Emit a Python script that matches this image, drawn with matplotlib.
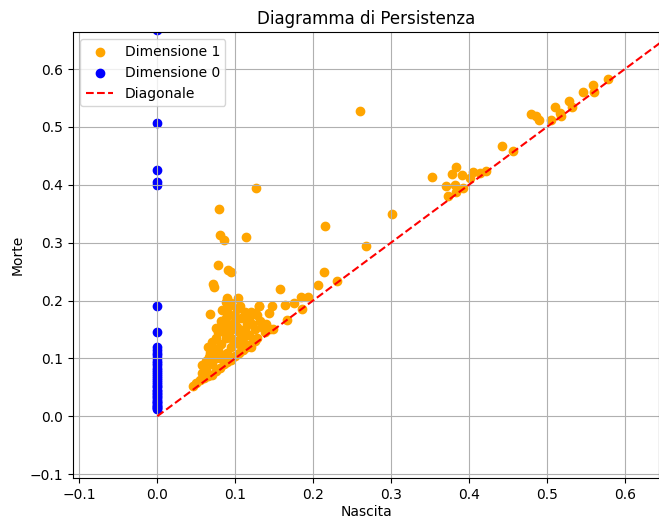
import numpy as np
import matplotlib
matplotlib.use('Agg')
import matplotlib.pyplot as plt

# Dimension 0 pairs: birth is always 0
dim0_death = [
    0.012, 0.014, 0.016, 0.018, 0.020, 0.022, 0.025, 0.027, 0.030, 0.033,
    0.035, 0.038, 0.040, 0.043, 0.046, 0.050, 0.053, 0.056, 0.060, 0.063,
    0.066, 0.070, 0.073, 0.077, 0.080, 0.084, 0.088, 0.092, 0.096, 0.100,
    0.105, 0.110, 0.115, 0.120, 0.145, 0.190, 0.399, 0.405, 0.425, 0.507,
    0.668,
]
dim0_birth = [0.0] * len(dim0_death)

# Dimension 1 pairs (birth, death)
dim1_birth = [
    # dense cluster near the origin
    0.046, 0.050, 0.055, 0.060, 0.065, 0.070, 0.075, 0.080, 0.085, 0.090,
    0.095, 0.100, 0.105, 0.110, 0.115, 0.120, 0.125, 0.058, 0.062, 0.066,
    0.068, 0.072, 0.065, 0.070, 0.075, 0.078, 0.080, 0.076, 0.082, 0.085,
    0.088, 0.090, 0.092, 0.088, 0.095, 0.098, 0.100, 0.102, 0.105, 0.108,
    0.110, 0.112, 0.115, 0.118, 0.120, 0.122, 0.125, 0.128, 0.130, 0.132,
    0.135, 0.138, 0.140, 0.118, 0.095, 0.090, 0.085, 0.080, 0.078, 0.082,
    0.088, 0.092, 0.096, 0.100, 0.105, 0.095, 0.085, 0.090, 0.075, 0.070,
    0.108, 0.112, 0.102, 0.115, 0.120, 0.128, 0.070, 0.063, 0.058, 0.068,
    0.083, 0.089, 0.104, 0.106,
    # scattered above the cluster
    0.072, 0.073, 0.078, 0.091, 0.095, 0.079, 0.081, 0.085, 0.114, 0.127,
    # band along the diagonal
    0.130, 0.126, 0.143, 0.147, 0.145, 0.148, 0.157, 0.164, 0.175, 0.184,
    0.194, 0.186, 0.166, 0.206, 0.214, 0.215, 0.231, 0.268, 0.260, 0.301,
    # upper right group
    0.352, 0.383, 0.378, 0.391, 0.371, 0.382, 0.393, 0.373, 0.384, 0.405,
    0.414, 0.422, 0.401, 0.443, 0.456, 0.480, 0.486, 0.490, 0.506, 0.510,
    0.518, 0.517, 0.528, 0.532, 0.547, 0.559, 0.561, 0.578,
]
dim1_death = [
    0.052, 0.058, 0.062, 0.066, 0.070, 0.072, 0.078, 0.083, 0.090, 0.094,
    0.098, 0.104, 0.110, 0.114, 0.120, 0.125, 0.130, 0.088, 0.095, 0.102,
    0.110, 0.118, 0.120, 0.128, 0.135, 0.145, 0.155, 0.152, 0.165, 0.160,
    0.170, 0.180, 0.190, 0.198, 0.195, 0.175, 0.165, 0.155, 0.145, 0.135,
    0.128, 0.150, 0.160, 0.170, 0.180, 0.160, 0.150, 0.175, 0.190, 0.165,
    0.155, 0.145, 0.160, 0.140, 0.120, 0.110, 0.105, 0.100, 0.115, 0.125,
    0.135, 0.145, 0.150, 0.130, 0.125, 0.135, 0.145, 0.160, 0.100, 0.090,
    0.170, 0.180, 0.185, 0.140, 0.120, 0.135, 0.105, 0.080, 0.075, 0.176,
    0.184, 0.205, 0.205, 0.190,
    0.228, 0.224, 0.262, 0.252, 0.250, 0.359, 0.314, 0.305, 0.310, 0.395,
    0.190, 0.179, 0.179, 0.190, 0.150, 0.151, 0.220, 0.193, 0.196, 0.206,
    0.206, 0.186, 0.166, 0.226, 0.250, 0.328, 0.234, 0.295, 0.527, 0.350,
    0.413, 0.430, 0.419, 0.417, 0.398, 0.400, 0.394, 0.381, 0.388, 0.423,
    0.420, 0.424, 0.412, 0.467, 0.459, 0.522, 0.519, 0.512, 0.512, 0.535,
    0.519, 0.525, 0.545, 0.535, 0.561, 0.572, 0.561, 0.583,
]

diag_range = [0.0, 0.7]

fig = plt.figure(figsize=(6.59, 5.18), dpi=100)
ax = fig.add_axes([0.111, 0.077, 0.889, 0.861])

ax.scatter(dim1_birth, dim1_death, color='orange', label='Dimensione 1')
ax.scatter(dim0_birth, dim0_death, color='blue', label='Dimensione 0')
ax.plot(diag_range, diag_range, 'r--', label='Diagonale')

ax.set_xlim(-0.108, 0.644)
ax.set_ylim(-0.107, 0.664)
ax.set_xlabel('Nascita', labelpad=2)
ax.set_ylabel('Morte')
ax.set_title('Diagramma di Persistenza')
ax.legend(loc='upper left')
ax.grid(True)

fig.savefig('out.png', dpi=100)
